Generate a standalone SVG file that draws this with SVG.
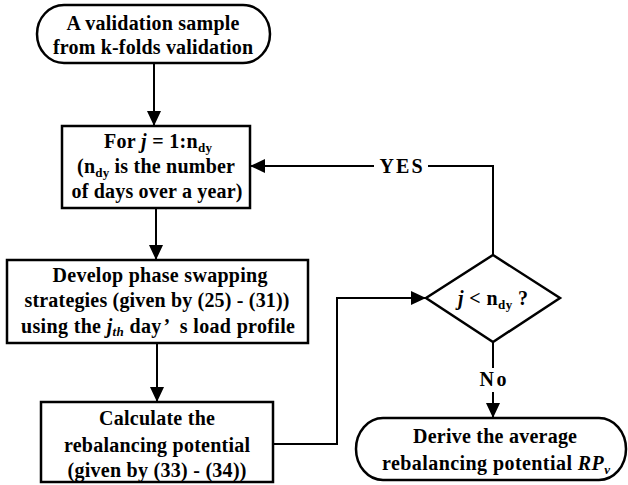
<svg xmlns="http://www.w3.org/2000/svg" width="628" height="485" viewBox="0 0 628 485">
<style>
.box{fill:#fff;stroke:#000;stroke-width:2.5}
.ln{fill:none;stroke:#000;stroke-width:2}
text{font-family:"Liberation Serif","Times New Roman",serif;font-weight:bold;font-size:20px;fill:#000;text-anchor:middle}
.sub{font-size:13px}
.it{font-style:italic}
</style>
<defs>
<marker id="ah" markerUnits="userSpaceOnUse" markerWidth="15" markerHeight="14" refX="15" refY="7" orient="auto">
<path d="M0,0 L15,7 L0,14 z" fill="#000"/>
</marker>
</defs>
<rect width="628" height="485" fill="#fff"/>
<g id="connectors">
<path class="ln" d="M154,63 V126" marker-end="url(#ah)"/>
<path class="ln" d="M156,208 V260" marker-end="url(#ah)"/>
<path class="ln" d="M157,343 V402" marker-end="url(#ah)"/>
<path class="ln" d="M273,444 H337 V298 H426" marker-end="url(#ah)"/>
<path class="ln" d="M493,255 V166 H250" marker-end="url(#ah)"/>
<path class="ln" d="M493,342 V418" marker-end="url(#ah)"/>
<rect x="374" y="155" width="54" height="22" fill="#fff"/>
<text x="401" y="173" textLength="43" lengthAdjust="spacing">YES</text>
<rect x="478" y="368" width="31" height="24" fill="#fff"/>
<text x="493" y="386" textLength="27" lengthAdjust="spacing">No</text>
</g>
<g id="start">
<rect class="box" x="37" y="5" width="233" height="58" rx="27" ry="29"/>
<text x="153" y="30" textLength="173" lengthAdjust="spacing">A validation sample</text>
<text x="153" y="54" textLength="200" lengthAdjust="spacing">from k-folds validation</text>
</g>
<g id="loop">
<rect class="box" x="62" y="126" width="188" height="82"/>
<text x="158" y="148" textLength="108" lengthAdjust="spacing">For <tspan class="it">j</tspan> = 1:n<tspan class="sub" dy="4">dy</tspan></text>
<text x="156" y="173" textLength="158" lengthAdjust="spacing">(n<tspan class="sub" dy="4">dy</tspan><tspan dy="-4"> is the number</tspan></text>
<text x="157" y="198" textLength="171" lengthAdjust="spacing">of days over a year)</text>
</g>
<g id="develop">
<rect class="box" x="7" y="260" width="301" height="83"/>
<text x="160" y="282" textLength="215" lengthAdjust="spacing">Develop phase swapping</text>
<text x="157" y="307" textLength="265" lengthAdjust="spacing">strategies (given by (25) - (31))</text>
<text x="158" y="333" textLength="274" lengthAdjust="spacing">using the <tspan class="it">j</tspan><tspan class="it sub" dy="3">th</tspan><tspan dy="-3"> day</tspan><tspan dx="2">’</tspan><tspan dx="10">s load profile</tspan></text>
</g>
<g id="calc">
<rect class="box" x="41" y="402" width="232" height="80"/>
<text x="157" y="425" textLength="116" lengthAdjust="spacing">Calculate the</text>
<text x="157" y="452" textLength="186" lengthAdjust="spacing">rebalancing potential</text>
<text x="157" y="477" textLength="179" lengthAdjust="spacing">(given by (33) - (34))</text>
</g>
<g id="decision">
<path class="box" d="M493,255 L560,298 L493,342 L426,298 Z"/>
<text x="493" y="305" textLength="70" lengthAdjust="spacing"><tspan class="it">j</tspan> &lt; n<tspan class="sub" dy="4">dy</tspan><tspan dy="-4"> ?</tspan></text>
</g>
<g id="end">
<rect class="box" x="356" y="418" width="270" height="62" rx="27" ry="31"/>
<text x="495" y="443" textLength="164" lengthAdjust="spacing">Derive the average</text>
<text x="496" y="470" textLength="228" lengthAdjust="spacing">rebalancing potential <tspan class="it">RP</tspan><tspan class="it sub" dy="4">v</tspan></text>
</g>
</svg>
